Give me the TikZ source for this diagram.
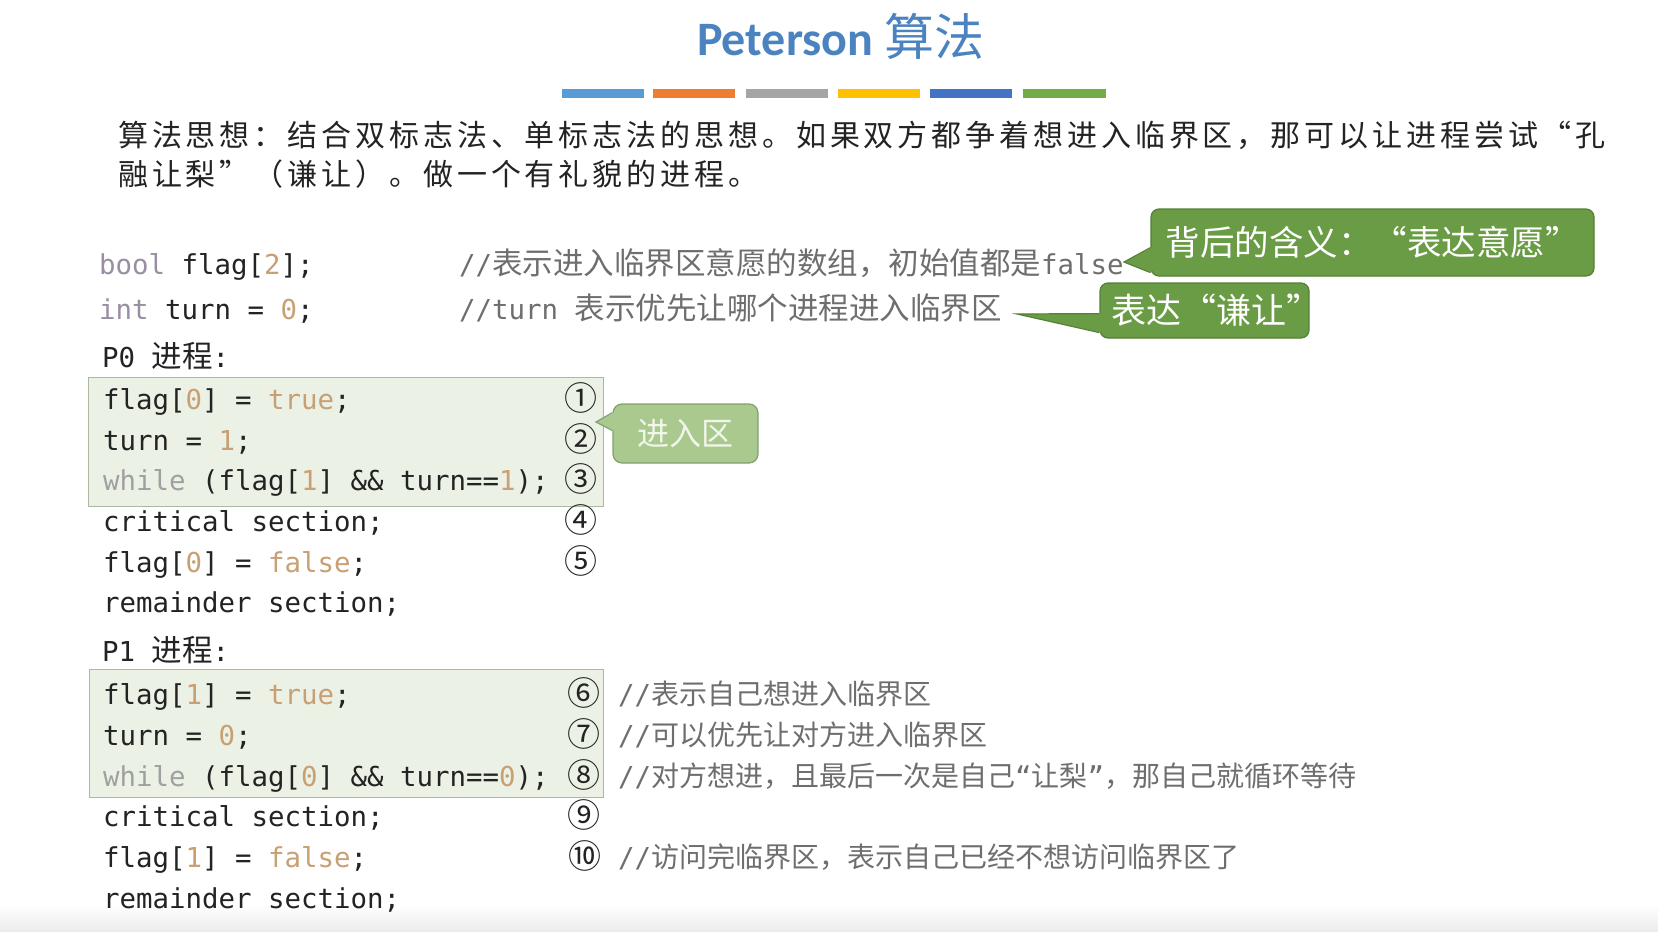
\documentclass[tikz,border=0pt]{standalone}
\usepackage{fontspec}
\setmainfont{Noto Sans CJK SC}
\setmonofont{DejaVu Sans Mono}
\newfontfamily\cjk{Noto Sans CJK SC}
\newfontfamily\cjkwide{Noto Sans CJK SC}[LetterSpace=13]
\newfontfamily\titlefont{Carlito}
\usetikzlibrary{calc}

\definecolor{titleblue}{RGB}{74,131,192}
\definecolor{barblue}{RGB}{91,155,213}
\definecolor{barorange}{RGB}{237,125,49}
\definecolor{bargray}{RGB}{165,165,165}
\definecolor{baryellow}{RGB}{255,192,0}
\definecolor{bardarkblue}{RGB}{68,114,196}
\definecolor{bargreen}{RGB}{112,173,71}
\definecolor{textdark}{RGB}{35,35,35}
\definecolor{kwpurple}{RGB}{155,142,163}
\definecolor{kwgray}{RGB}{160,160,160}
\definecolor{numtan}{RGB}{200,160,115}
\definecolor{cmtgray}{RGB}{110,110,110}
\definecolor{boxfill}{RGB}{235,242,229}
\definecolor{boxedge}{RGB}{170,186,160}
\definecolor{calloutgreen}{RGB}{106,155,69}
\definecolor{calloutedge}{RGB}{84,128,55}
\definecolor{lightcallout}{RGB}{169,201,142}
\definecolor{lightedge}{RGB}{130,160,115}
\definecolor{lighttext}{RGB}{240,246,234}

\newcommand{\kwp}[1]{\textcolor{kwpurple}{#1}}
\newcommand{\kwg}[1]{\textcolor{kwgray}{#1}}
\newcommand{\numc}[1]{\textcolor{numtan}{#1}}
\newcommand{\zh}[1]{{\cjk\fontsize{30.5}{32}\selectfont #1}}
\newcommand{\zhs}[1]{{\cjk\fontsize{28}{30}\selectfont #1}}
\newcommand{\codefont}{\ttfamily\fontsize{27.4}{30}\selectfont}

\tikzset{
  code/.style={anchor=base west, text=textdark, font=\codefont},
  comment/.style={anchor=base west, text=cmtgray, font=\codefont},
  circnum/.style={anchor=base, text=textdark, font=\cjk\fontsize{33}{34}\selectfont},
  para/.style={anchor=base west, text=textdark, font=\cjkwide\fontsize{30}{34}\selectfont},
  codebox/.style={fill=boxfill, draw=boxedge, line width=1pt},
  saybox/.style={fill=calloutgreen, draw=calloutedge, line width=1.2pt, rounded corners=8pt, text=white, font=\cjk\fontsize{34.5}{36}\selectfont},
  softbox/.style={fill=lightcallout, draw=lightedge, line width=1.2pt, rounded corners=9pt, text=lighttext, font=\cjk\fontsize{32}{34}\selectfont}
}

\begin{document}
\begin{tikzpicture}[x=1pt,y=1pt]
\tikzstyle{every node}+=[inner sep=0pt]
\fill [white] (0,0) rectangle (1658,-932);
\useasboundingbox (0,0) rectangle (1658,-932);
\shade [top color=white, bottom color=black!8] (0,-905) rectangle (1658,-932);
\node [anchor=base west, text=titleblue] (title) at (697,-55) {{\titlefont\bfseries\fontsize{48}{50}\selectfont Peterson }{\cjk\fontsize{50}{52}\selectfont 算法}};
\fill [barblue] (562,-89) rectangle (644,-98);
\fill [barorange] (653,-89) rectangle (735,-98);
\fill [bargray] (746,-89) rectangle (828,-98);
\fill [baryellow] (838,-89) rectangle (920,-98);
\fill [bardarkblue] (930,-89) rectangle (1012,-98);
\fill [bargreen] (1023,-89) rectangle (1106,-98);
\node [para] (idea1) at (118,-146) {算法思想：结合双标志法、单标志法的思想。如果双方都争着想进入临界区，那可以让进程尝试“孔};
\node [para] (idea2) at (118,-185) {融让梨”（谦让）。做一个有礼貌的进程。};
\node [code] (flagdecl) at (99,-274) {\kwp{bool} flag[\numc{2}];};
\node [comment] (flagnote) at (459,-274) {//\zh{表示进入临界区意愿的数组，初始值都是}false};
\node [code] (turndecl) at (99,-319) {\kwp{int} turn = \numc{0};};
\node [comment] (turnnote) at (459,-319) {//turn \zh{表示优先让哪个进程进入临界区}};
\node [code] (p0) at (102,-367) {P0 \zh{进程}:};
\node [codebox, minimum width=515pt, minimum height=129pt] (p0box) at (345.5,-441.5) {};
\node [code] (p0a) at (103,-409.5) {flag[\numc{0}] = \numc{true};};
\node [code] (p0b) at (103,-450) {turn = \numc{1};};
\node [code] (p0c) at (103,-490.5) {\kwg{while} (flag[\numc{1}] \&\& turn==\numc{1});};
\node [code] (p0d) at (103,-531) {critical section;};
\node [code] (p0e) at (103,-572) {flag[\numc{0}] = \numc{false};};
\node [code] (p0f) at (103,-612.5) {remainder section;};
\node [circnum] (n1) at (581,-410.5) {①};
\node [circnum] (n2) at (581,-451) {②};
\node [circnum] (n3) at (581,-491.5) {③};
\node [circnum] (n4) at (581,-532) {④};
\node [circnum] (n5) at (581,-573) {⑤};
\node [code] (p1) at (102,-661) {P1 \zh{进程}:};
\node [codebox, minimum width=514pt, minimum height=128pt] (p1box) at (346,-733) {};
\node [code] (p1a) at (103,-704.5) {flag[\numc{1}] = \numc{true};};
\node [code] (p1b) at (103,-745) {turn = \numc{0};};
\node [code] (p1c) at (103,-786) {\kwg{while} (flag[\numc{0}] \&\& turn==\numc{0});};
\node [code] (p1d) at (103,-826.5) {critical section;};
\node [code] (p1e) at (103,-867) {flag[\numc{1}] = \numc{false};};
\node [code] (p1f) at (103,-908) {remainder section;};
\node [circnum] (n6) at (584,-705.5) {⑥};
\node [circnum] (n7) at (584,-746) {⑦};
\node [circnum] (n8) at (584,-787) {⑧};
\node [circnum] (n9) at (584,-827.5) {⑨};
\node [circnum] (n10) at (585,-868) {⑩};
\node [comment] (p1anote) at (618,-704.5) {//\zhs{表示自己想进入临界区}};
\node [comment] (p1bnote) at (618,-745) {//\zhs{可以优先让对方进入临界区}};
\node [comment] (p1cnote) at (618,-786) {//\zhs{对方想进，且最后一次是自己}“\zhs{让梨}”\zhs{，那自己就循环等待}};
\node [comment] (p1enote) at (618,-867) {//\zhs{访问完临界区，表示自己已经不想访问临界区了}};
\node [saybox, minimum width=443pt, minimum height=67pt] (meaning) at (1372.5,-242.5) {背后的含义：“表达意愿”};
\coordinate (meaningtip) at (1124,-262);
\fill [calloutgreen] ($(meaning.south west)+(1.5,4)$) -- (meaningtip) -- ($(meaning.south west)+(1.5,29)$) -- cycle;
\draw [calloutedge, line width=1.2pt] ($(meaning.south west)+(0,4)$) -- (meaningtip) -- ($(meaning.south west)+(0,29)$);
\node [saybox, minimum width=209pt, minimum height=55pt, text width=204pt, align=right, font=\cjk\fontsize{35}{36}\selectfont] (yield) at (1204.5,-310.5) {表达“谦让”\hspace*{-15pt}};
\coordinate (yieldtip) at (1017,-314);
\fill [calloutgreen] ($(yield.south west)+(1.5,6)$) -- (yieldtip) -- ($(yield.south west)+(1.5,25)$) -- cycle;
\draw [calloutedge, line width=1.2pt] ($(yield.south west)+(0,6)$) -- (yieldtip) -- ($(yield.south west)+(0,25)$);
\node [softbox, minimum width=145pt, minimum height=59pt] (entry) at (685.5,-433.5) {进入区};
\coordinate (entrytip) at (596,-422);
\fill [lightcallout] ($(entry.south west)+(1.5,33)$) -- (entrytip) -- ($(entry.south west)+(1.5,51)$) -- cycle;
\draw [lightedge, line width=1.2pt] ($(entry.south west)+(0,33)$) -- (entrytip) -- ($(entry.south west)+(0,51)$);
\end{tikzpicture}
\end{document}
